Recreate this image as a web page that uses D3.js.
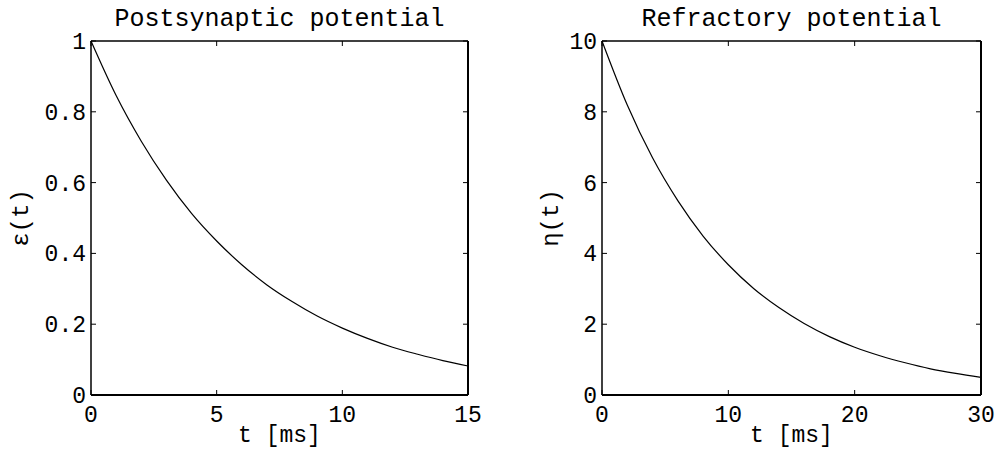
<!DOCTYPE html>
<html>
<head>
<meta charset="utf-8">
<script src="https://cdn.jsdelivr.net/npm/d3@7"></script>
<style>
  body { margin: 0; background: #fff; }
  svg text { font-family: "Liberation Mono", "DejaVu Sans Mono", monospace; fill: #000; }
</style>
</head>
<body>
<svg id="chart" width="996" height="450"></svg>
<script>
// values
const epsT = [0, 1, 2, 3, 4, 5, 6, 7, 8, 9, 10, 11, 12, 13, 14, 15];
const epsV = [1, 0.846, 0.717, 0.607, 0.513, 0.435, 0.368, 0.311, 0.264, 0.223, 0.189, 0.160, 0.135, 0.115, 0.097, 0.082];

const etaT = [0, 2, 4, 6, 8, 10, 12, 14, 16, 18, 20, 22, 24, 26, 28, 30];
const etaV = [10, 8.19, 6.70, 5.49, 4.49, 3.68, 3.01, 2.47, 2.02, 1.65, 1.35, 1.11, 0.91, 0.74, 0.61, 0.50];

const epsXTicks = [0, 5, 10, 15];
const epsYTicks = [0, 0.2, 0.4, 0.6, 0.8, 1];
const etaXTicks = [0, 10, 20, 30];
const etaYTicks = [0, 2, 4, 6, 8, 10];

const svg = d3.select("#chart");

function panel(opts) {
    const { left, right, top, bottom } = opts;

    const x = d3.scaleLinear().domain(opts.xDomain).range([left, right]);
    const y = d3.scaleLinear().domain(opts.yDomain).range([bottom, top]);
    const g = svg.append("g");

    /* inward ticks on all four sides */
    const tk = 5;
    opts.xTicks.forEach(v => {
        g.append("line").attr("x1", x(v)).attr("x2", x(v)).attr("y1", bottom).attr("y2", bottom - tk).attr("stroke", "#000");
        g.append("line").attr("x1", x(v)).attr("x2", x(v)).attr("y1", top).attr("y2", top + tk).attr("stroke", "#000");
        g.append("text")
            .attr("x", x(v)).attr("y", bottom + 27)
            .attr("text-anchor", "middle")
            .style("font-size", "23px")
            .text(v);
    });
    opts.yTicks.forEach(v => {
        g.append("line").attr("x1", left).attr("x2", left + tk).attr("y1", y(v)).attr("y2", y(v)).attr("stroke", "#000");
        g.append("line").attr("x1", right).attr("x2", right - tk).attr("y1", y(v)).attr("y2", y(v)).attr("stroke", "#000");
        g.append("text")
            .attr("x", left - 5).attr("y", y(v) + 8)
            .attr("text-anchor", "end")
            .style("font-size", "23px")
            .text(opts.yFormat(v));
    });

    /* curve */
    const line = d3.line()
        .x((d, i) => x(opts.t[i]))
        .y(d => y(d))
        .curve(d3.curveMonotoneX);

    g.append("path")
        .datum(opts.v)
        .attr("d", line)
        .attr("fill", "none")
        .attr("stroke", "#000")
        .attr("stroke-width", 1.2);

    /* frame */
    g.append("line").attr("x1", left).attr("x2", right).attr("y1", top).attr("y2", top).attr("stroke", "#000").attr("stroke-width", 1.3);
    g.append("line").attr("x1", left).attr("x2", left).attr("y1", top).attr("y2", bottom).attr("stroke", "#000").attr("stroke-width", 1.5);
    g.append("line").attr("x1", left).attr("x2", right).attr("y1", bottom).attr("y2", bottom).attr("stroke", "#000").attr("stroke-width", 2);
    g.append("line").attr("x1", right).attr("x2", right).attr("y1", top).attr("y2", bottom).attr("stroke", "#000").attr("stroke-width", 2);

    /* title and labels */
    g.append("text")
        .attr("x", (left + right) / 2).attr("y", 26)
        .attr("text-anchor", "middle")
        .style("font-size", "25px")
        .text(opts.title);

    g.append("text")
        .attr("x", (left + right) / 2).attr("y", 442)
        .attr("text-anchor", "middle")
        .style("font-size", "23px")
        .text("t [ms]");

    g.append("text")
        .attr("transform", `translate(${opts.yLabelX},${(top + bottom) / 2}) rotate(-90)`)
        .attr("text-anchor", "middle")
        .style("font-size", "24px")
        .text(opts.yLabel);
}

panel({
    left: 91, right: 468, top: 41, bottom: 395,
    xDomain: [0, 15], yDomain: [0, 1],
    xTicks: epsXTicks, yTicks: epsYTicks,
    yFormat: v => v === 0 || v === 1 ? String(v) : v.toFixed(1),
    t: epsT, v: epsV,
    title: "Postsynaptic potential",
    yLabel: "ε(t)", yLabelX: 28
});

panel({
    left: 602, right: 981, top: 41, bottom: 395,
    xDomain: [0, 30], yDomain: [0, 10],
    xTicks: etaXTicks, yTicks: etaYTicks,
    yFormat: v => String(v),
    t: etaT, v: etaV,
    title: "Refractory potential",
    yLabel: "η(t)", yLabelX: 558
});
</script>
</body>
</html>
